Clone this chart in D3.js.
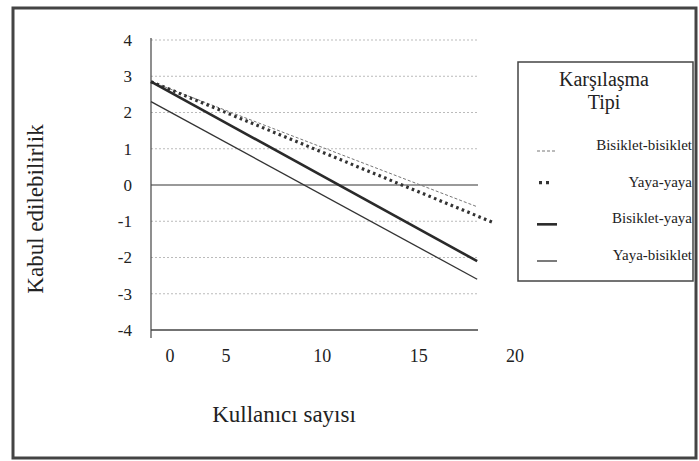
<!DOCTYPE html>
<html>
<head>
<meta charset="utf-8">
<script src="https://cdn.jsdelivr.net/npm/d3@7"></script>
<style>
  body { margin: 0; background: #fff; }
  svg { display: block; font-family: "Liberation Serif", "DejaVu Serif", serif; }
</style>
</head>
<body>
<svg width="699" height="461"></svg>
<script>
const svg = d3.select("svg");

// data
const seriesNames = ["Bisiklet-bisiklet", "Yaya-yaya", "Bisiklet-yaya", "Yaya-bisiklet"];
const seriesX = [[0, 16.9], [0, 17.8], [0, 16.9], [0, 16.9]];
const seriesY = [[2.85, -0.6], [2.85, -1.05], [2.85, -2.1], [2.3, -2.6]];
const yTicks = [4, 3, 2, 1, 0, -1, -2, -3, -4];
const xTickLabels = [0, 5, 10, 15, 20];

const styles = {
    "Bisiklet-bisiklet": { width: 1, dash: "3,2", color: "#777" },
    "Yaya-yaya": { width: 3.2, dash: "2.6,3.4", color: "#333" },
    "Bisiklet-yaya": { width: 2.6, dash: null, color: "#2a2a2a" },
    "Yaya-bisiklet": { width: 1.3, dash: null, color: "#333" }
};

const plot = { left: 151, right: 478, top: 40, bottom: 330 };

const y = d3.scaleLinear().domain([-4, 4]).range([plot.bottom, plot.top]);
const xLine = d3.scaleLinear().domain([0, 17]).range([plot.left, plot.left + 17 * 19.3]);
// tick labels in the original sit unevenly
const xLabel = d3.scaleLinear().domain([0, 5, 20]).range([170, 226, 515]);

// outer frame
svg.append("rect")
    .attr("x", 13).attr("y", 8).attr("width", 683).attr("height", 450)
    .attr("fill", "none").attr("stroke", "#444").attr("stroke-width", 3);

// grid
svg.append("g").selectAll("line")
    .data(yTicks)
    .join("line")
    .attr("x1", plot.left).attr("x2", plot.right)
    .attr("y1", d => y(d)).attr("y2", d => y(d))
    .attr("stroke", d => d === 0 ? "#777" : d === -4 ? "#444" : "#aaa")
    .attr("stroke-width", d => d === -4 ? 1.6 : d === 0 ? 1.3 : 0.8)
    .attr("stroke-dasharray", d => (d === 0 || d === -4) ? null : "2,2");

// y axis
const yAxis = svg.append("g")
    .attr("transform", `translate(${plot.left},0)`)
    .call(d3.axisLeft(y).tickValues(yTicks).tickSize(0).tickPadding(19)
        .tickFormat(d => d < 0 ? "-" + Math.abs(d) : d));
yAxis.select(".domain").remove();
yAxis.selectAll("text")
    .attr("font-family", "Liberation Serif").attr("font-size", 17).attr("fill", "#222");
svg.append("line")
    .attr("x1", plot.left).attr("x2", plot.left)
    .attr("y1", plot.top - 2).attr("y2", plot.bottom + 8)
    .attr("stroke", "#444").attr("stroke-width", 1.2);

// x labels
svg.append("g").selectAll("text")
    .data(xTickLabels)
    .join("text")
    .attr("x", d => xLabel(d)).attr("y", 362)
    .attr("text-anchor", "middle")
    .attr("font-size", 18).attr("fill", "#222")
    .text(d => d);

// titles
svg.append("text")
    .attr("transform", "translate(43,209) rotate(-90)")
    .attr("text-anchor", "middle").attr("font-size", 23).attr("fill", "#222")
    .text("Kabul edilebilirlik");
svg.append("text")
    .attr("x", 284).attr("y", 422)
    .attr("text-anchor", "middle").attr("font-size", 23).attr("fill", "#222")
    .text("Kullanıcı sayısı");

// lines
const lineGen = d3.line().x(d => xLine(d[0])).y(d => y(d[1]));
svg.append("g").selectAll("path")
    .data(seriesNames)
    .join("path")
    .attr("d", (name, i) => lineGen(d3.zip(seriesX[i], seriesY[i])))
    .attr("fill", "none")
    .attr("stroke", d => styles[d].color)
    .attr("stroke-width", d => styles[d].width)
    .attr("stroke-dasharray", d => styles[d].dash);

// legend
const legend = svg.append("g");
legend.append("rect")
    .attr("x", 518).attr("y", 62).attr("width", 175).attr("height", 219)
    .attr("fill", "#fff").attr("stroke", "#444").attr("stroke-width", 1.5);
legend.append("text")
    .attr("x", 604).attr("y", 86).attr("text-anchor", "middle")
    .attr("font-size", 20).attr("fill", "#222").text("Karşılaşma");
legend.append("text")
    .attr("x", 604).attr("y", 109).attr("text-anchor", "middle")
    .attr("font-size", 20).attr("fill", "#222").text("Tipi");

const legendY = d3.scalePoint().domain(seriesNames).range([150, 260]);
const items = legend.selectAll("g.item")
    .data(seriesNames)
    .join("g")
    .attr("class", "item")
    .attr("transform", d => `translate(0,${legendY(d)})`);
items.append("line")
    .attr("x1", d => d === "Yaya-yaya" ? 539 : 537)
    .attr("x2", d => d === "Yaya-yaya" ? 553 : 557)
    .attr("y1", d => d === "Yaya-yaya" ? -4 : 1)
    .attr("y2", d => d === "Yaya-yaya" ? -4 : 1)
    .attr("stroke", d => styles[d].color)
    .attr("stroke-width", d => styles[d].width)
    .attr("stroke-dasharray", d => d === "Yaya-yaya" ? "3,4" : styles[d].dash);
items.append("text")
    .attr("x", 692).attr("y", 0)
    .attr("text-anchor", "end")
    .attr("font-size", 15).attr("fill", "#222")
    .text(d => d);
</script>
</body>
</html>
